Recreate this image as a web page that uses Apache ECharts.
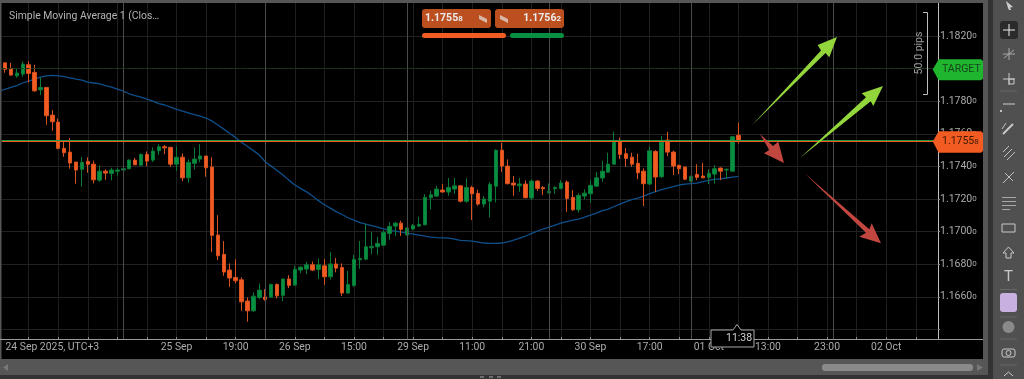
<!DOCTYPE html>
<html>
<head>
<meta charset="utf-8">
<title>EURUSD</title>
<style>
  html, body { margin: 0; padding: 0; background: #000; }
  #chart { width: 1024px; height: 379px; }
</style>
<script src="https://cdn.jsdelivr.net/npm/echarts@6/dist/echarts.min.js"></script>
</head>
<body>
<div id="chart"></div>
<script>
// candles
const opens = [
  1.18157,1.18036,1.17999,1.17956,1.17967,1.18024,1.17977,1.17870,1.17885,1.17715,
  1.17672,1.17511,1.17488,1.17427,1.17382,1.17431,1.17414,1.17316,1.17371,1.17357,
  1.17371,1.17378,1.17386,1.17439,1.17408,1.17474,1.17439,1.17496,1.17521,1.17517,
  1.17414,1.17457,1.17330,1.17419,1.17445,1.17464,1.17396,1.16979,1.16860,1.16764,
  1.16719,1.16704,1.16574,1.16514,1.16596,1.16598,1.16598,1.16676,1.16609,1.16709,
  1.16672,1.16764,1.16770,1.16796,1.16768,1.16790,1.16723,1.16801,1.16780,1.16623,
  1.16670,1.16827,1.16831,1.16901,1.16907,1.16917,1.16989,1.17034,1.17052,1.16979,
  1.17016,1.17034,1.17042,1.17208,1.17218,1.17255,1.17243,1.17261,1.17281,1.17186,
  1.17271,1.17235,1.17169,1.17187,1.17279,1.17499,1.17402,1.17298,1.17281,1.17292,
  1.17206,1.17310,1.17271,1.17238,1.17263,1.17265,1.17304,1.17210,1.17134,1.17218,
  1.17232,1.17279,1.17329,1.17365,1.17414,1.17551,1.17478,1.17457,1.17419,1.17371,
  1.17292,1.17492,1.17337,1.17562,1.17488,1.17407,1.17396,1.17310,1.17351,1.17341,
  1.17333,1.17353,1.17390,1.17378,1.17371,1.17591
];
const closes = [
  1.18034,1.17996,1.17961,1.17973,1.18028,1.17971,1.17864,1.17885,1.17711,1.17674,
  1.17511,1.17484,1.17421,1.17378,1.17425,1.17413,1.17318,1.17371,1.17359,1.17378,
  1.17378,1.17386,1.17439,1.17410,1.17474,1.17433,1.17494,1.17521,1.17514,1.17414,
  1.17456,1.17330,1.17425,1.17445,1.17464,1.17392,1.16977,1.16852,1.16752,1.16715,
  1.16698,1.16569,1.16514,1.16604,1.16641,1.16584,1.16676,1.16606,1.16709,1.16670,
  1.16768,1.16782,1.16796,1.16764,1.16796,1.16723,1.16801,1.16776,1.16623,1.16676,
  1.16830,1.16836,1.16907,1.16909,1.16928,1.16995,1.17032,1.17052,1.17014,1.17022,
  1.17038,1.17044,1.17210,1.17226,1.17261,1.17243,1.17271,1.17281,1.17187,1.17271,
  1.17232,1.17169,1.17200,1.17290,1.17499,1.17402,1.17294,1.17286,1.17292,1.17208,
  1.17310,1.17265,1.17263,1.17247,1.17271,1.17298,1.17204,1.17134,1.17222,1.17236,
  1.17284,1.17330,1.17371,1.17414,1.17551,1.17474,1.17449,1.17414,1.17361,1.17294,
  1.17496,1.17335,1.17551,1.17488,1.17402,1.17386,1.17322,1.17339,1.17333,1.17330,
  1.17357,1.17386,1.17371,1.17382,1.17582,1.17558
];
const lows = [
  1.18034,1.17975,1.17956,1.17944,1.17950,1.17916,1.17858,1.17838,1.17656,1.17619,
  1.17505,1.17459,1.17386,1.17294,1.17275,1.17361,1.17296,1.17306,1.17318,1.17314,
  1.17343,1.17371,1.17382,1.17410,1.17402,1.17402,1.17427,1.17470,1.17476,1.17398,
  1.17373,1.17310,1.17300,1.17382,1.17425,1.17337,1.16874,1.16825,1.16729,1.16661,
  1.16682,1.16514,1.16447,1.16508,1.16586,1.16576,1.16596,1.16590,1.16574,1.16653,
  1.16668,1.16744,1.16739,1.16758,1.16709,1.16674,1.16707,1.16750,1.16606,1.16618,
  1.16661,1.16772,1.16825,1.16862,1.16858,1.16911,1.16950,1.16973,1.16973,1.16977,
  1.17009,1.17030,1.17038,1.17136,1.17214,1.17241,1.17220,1.17232,1.17179,1.17177,
  1.17071,1.17159,1.17149,1.17087,1.17179,1.17365,1.17290,1.17220,1.17244,1.17204,
  1.17194,1.17249,1.17224,1.17235,1.17232,1.17259,1.17122,1.17128,1.17116,1.17198,
  1.17177,1.17275,1.17306,1.17361,1.17413,1.17445,1.17398,1.17398,1.17322,1.17157,
  1.17284,1.17244,1.17329,1.17464,1.17347,1.17353,1.17316,1.17302,1.17316,1.17329,
  1.17292,1.17294,1.17316,1.17327,1.17370,1.17541
];
const highs = [
  1.18157,1.18036,1.18036,1.18002,1.18045,1.18045,1.18024,1.17947,1.17885,1.17746,
  1.17695,1.17551,1.17574,1.17427,1.17459,1.17456,1.17435,1.17408,1.17382,1.17392,
  1.17392,1.17392,1.17443,1.17453,1.17480,1.17492,1.17517,1.17537,1.17531,1.17521,
  1.17523,1.17480,1.17443,1.17517,1.17537,1.17464,1.17456,1.17101,1.16942,1.16805,
  1.16830,1.16719,1.16596,1.16627,1.16682,1.16647,1.16680,1.16682,1.16713,1.16733,
  1.16790,1.16788,1.16815,1.16817,1.16836,1.16831,1.16874,1.16839,1.16805,1.16758,
  1.16858,1.16942,1.17046,1.16997,1.16968,1.17009,1.17057,1.17059,1.17067,1.17026,
  1.17046,1.17091,1.17230,1.17251,1.17279,1.17292,1.17329,1.17329,1.17286,1.17327,
  1.17281,1.17257,1.17218,1.17304,1.17505,1.17545,1.17443,1.17341,1.17329,1.17314,
  1.17321,1.17316,1.17279,1.17296,1.17279,1.17316,1.17314,1.17255,1.17235,1.17259,
  1.17316,1.17365,1.17435,1.17484,1.17613,1.17578,1.17513,1.17484,1.17478,1.17388,
  1.17521,1.17500,1.17588,1.17613,1.17496,1.17410,1.17398,1.17343,1.17414,1.17422,
  1.17382,1.17408,1.17394,1.17388,1.17586,1.17668
];
const sma = [
  1.17862,1.17873,1.17885,1.17896,1.17912,1.17924,1.17936,1.17948,1.17956,1.17959,
  1.17956,1.17951,1.17944,1.17936,1.17930,1.17918,1.17912,1.17907,1.17896,1.17887,
  1.17875,1.17862,1.17846,1.17835,1.17826,1.17813,1.17801,1.17786,1.17777,1.17764,
  1.17750,1.17740,1.17729,1.17718,1.17709,1.17697,1.17678,1.17654,1.17629,1.17602,
  1.17577,1.17549,1.17522,1.17497,1.17470,1.17429,1.17402,1.17375,1.17347,1.17316,
  1.17286,1.17264,1.17244,1.17218,1.17190,1.17165,1.17144,1.17123,1.17105,1.17085,
  1.17071,1.17055,1.17046,1.17037,1.17028,1.17017,1.17009,1.17003,1.16997,1.16991,
  1.16985,1.16979,1.16973,1.16966,1.16963,1.16962,1.16960,1.16954,1.16946,1.16945,
  1.16942,1.16936,1.16930,1.16928,1.16928,1.16930,1.16937,1.16948,1.16960,1.16973,
  1.16988,1.17003,1.17016,1.17028,1.17040,1.17052,1.17062,1.17071,1.17077,1.17089,
  1.17101,1.17114,1.17129,1.17138,1.17154,1.17169,1.17184,1.17197,1.17206,1.17218,
  1.17233,1.17246,1.17258,1.17267,1.17276,1.17286,1.17292,1.17295,1.17298,1.17307,
  1.17315,1.17321,1.17324,1.17329,1.17335,1.17339
];

const priceNow = 1.17558;
const targetPrice = 1.18;
const priceTicks = [1.164,1.166,1.168,1.17,1.172,1.174,1.176,1.178,1.18,1.182];
const priceLabels = [1.166,1.168,1.17,1.172,1.174,1.176,1.178,1.18,1.182];
const timeTicks = [5,10,15,20,25,30,35,40,45,50,55,60,65,70,75,80,85,90,95,100,105,110,115,120,125,130,135,140,145,150,155];
const timeLabelAt = [9,30,40,50,60,70,80,90,100,110,120,130,140,150];
const timeLabels = ['24 Sep 2025, UTC+3','25 Sep','19:00','26 Sep','15:00','29 Sep','11:00','21:00','30 Sep','17:00','01 Oct','13:00','23:00','02 Oct'];
const sessionBreaks = [21,45,69,93,117,141];

const ORANGE = '#f25c22', GREEN = '#07903f', LIME = '#93d63b', RED = '#c0463f';
const FONT = 'Roboto, sans-serif';

const candles = opens.map((o, i) => [i, o, closes[i], lows[i], highs[i]]);
const smaLine = sma.map((v, i) => [i, v]);

// gray frame, toolbar, drawing objects: page furniture around the plot
function rect(x, y, w, h, fill, r) {
  return { type: 'rect', silent: true, z: 50, shape: { x, y, width: w, height: h, r: r || 0 }, style: { fill } };
}
function line(x1, y1, x2, y2, stroke, w) {
  return { type: 'line', silent: true, z: 51, shape: { x1, y1, x2, y2 }, style: { stroke: stroke || '#c8c8c8', lineWidth: w || 1 } };
}
function poly(points, fill, z) {
  return { type: 'polygon', silent: true, z: z || 45, shape: { points }, style: { fill } };
}
function text(x, y, str, fill, size, align, extra) {
  return Object.assign({ type: 'text', silent: true, z: 60, x, y,
    style: { text: str, fill, font: size + 'px ' + FONT, textAlign: align || 'left', textVerticalAlign: 'middle' } }, extra || {});
}
function richPrice(x, y, big, small, fill, size, weight, align) {
  const w = weight ? weight + ' ' : '';
  return { type: 'text', silent: true, z: 60, x, y, style: {
    text: '{a|' + big + '}{s|' + small + '}', textAlign: align || 'left', textVerticalAlign: 'middle',
    rich: {
      a: { fill, font: w + size + 'px ' + FONT },
      s: { fill, font: w + (size - 2.5) + 'px ' + FONT }
    }
  } };
}

const chrome = [
  rect(0, 0, 1024, 3, '#565656'),
  rect(0, 3, 1.5, 356, '#565656'),
  rect(983, 0, 5, 376, '#565656'),
  rect(988, 0, 5, 379, '#333333'),
  rect(993, 0, 31, 379, '#505050'),
  rect(0, 359, 988, 16, '#565656'),
  rect(0, 375, 993, 4, '#333333'),
  rect(822, 364, 151, 7, '#8a8a8a', 3),
  poly([[977, 364], [983, 367.5], [977, 371]], '#777777', 52),
  poly([[8, 364], [3, 367.5], [8, 371]], '#777777', 52),
  line(0, 339.5, 983, 339.5, '#9a9a9a'),
  rect(480, 376.5, 4, 1, '#aaaaaa'), rect(489, 376.5, 4, 1, '#aaaaaa'), rect(497, 376.5, 4, 1, '#aaaaaa'),

  // legend and trade buttons
  text(9, 16, 'Simple Moving Average 1 (Clos\u2026', '#b4b4b4', 10.4),
  rect(422, 9, 69, 19, '#bb4f20', 3),
  rect(495, 9, 69, 19, '#bb4f20', 3),
  richPrice(425, 18.5, '1.1755', '8', '#ececec', 10.5, 'bold'),
  richPrice(561, 18.5, '1.1756', '2', '#ececec', 10.5, 'bold', 'right'),
  poly([[479, 15], [487, 19], [487, 23], [479, 19]], '#d9b8a8', 52),
  poly([[500, 15], [508, 19], [508, 23], [500, 19]], '#d9b8a8', 52),
  rect(422, 33, 84, 5, ORANGE, 2.5),
  rect(510, 33, 54, 5, GREEN, 2.5),

  // hand drawn arrows
  poly([[752, 125.3], [821, 50.5], [817.7, 45], [837, 37], [829.3, 57.3], [825.5, 53]], LIME),
  poly([[800, 158], [866, 97.3], [861.7, 93.3], [883, 86], [873.3, 106], [870.7, 101.3]], LIME),
  poly([[760, 134], [769.3, 150], [764, 153.3], [784, 163], [778.3, 141.7], [773, 146]], RED),
  poly([[804.3, 173], [866, 232.7], [859.3, 236.7], [881, 243.3], [871.7, 223.3], [869.3, 229.3]], RED),

  // 50 pips ruler
  line(923, 12.5, 927.5, 12.5, '#bdbdbd'),
  line(927.5, 12.5, 927.5, 94.5, '#bdbdbd'),
  line(923, 94.5, 927.5, 94.5, '#bdbdbd'),
  text(919, 53, '50.0 pips', '#9c9c9c', 10.5, 'center', { rotation: Math.PI / 2 }),

  // price tags
  { type: 'polygon', silent: true, z: 55, shape: { points: [[932.7, 69.5], [938.7, 59.3], [981, 59.3], [983, 61], [983, 78.5], [981, 80.3], [938.7, 80.3]] }, style: { fill: '#1fb52f' } },
  text(942, 69.5, 'TARGET', '#17451c', 10.5),
  { type: 'polygon', silent: true, z: 55, shape: { points: [[932.7, 141.5], [938.7, 131.3], [981, 131.3], [983, 133], [983, 151], [981, 152.7], [938.7, 152.7]] }, style: { fill: ORANGE } },
  richPrice(942, 141.5, '1.1755', '8', '#3a1800', 10.5),

  // time bubble
  { type: 'polygon', silent: true, z: 55, shape: { points: [[711, 330], [733, 330], [737, 324.5], [741, 330], [754, 330], [754, 347], [711, 347]] }, style: { fill: '#000', stroke: '#a8a8a8', lineWidth: 1 } },
  rect(716, 334, 1.5, 9, '#c8c8c8'), rect(719, 334, 1.5, 9, '#c8c8c8'),
  text(726, 338.5, '11:38', '#d0d0d0', 10.5),

  // toolbar
  poly([[1006, 1], [1013, 7], [1010, 7.5], [1011, 10], [1009, 10], [1008, 8]], '#cfcfcf', 52),
  rect(1000, 21, 18, 18, '#2b2b2b', 3),
  line(1003, 30, 1015, 30, '#eeeeee'), line(1009, 24, 1009, 36, '#eeeeee'),
  line(1003, 54, 1015, 54, '#a8a8a8'), line(1009, 48, 1009, 60, '#a8a8a8'), line(1004, 58, 1014, 50, '#a8a8a8'),
  line(1003, 79, 1015, 79, '#c8c8c8'), line(1009, 73, 1009, 85, '#c8c8c8'),
  { type: 'rect', silent: true, z: 51, shape: { x: 1009, y: 79, width: 5, height: 5 }, style: { fill: 'none', stroke: '#c8c8c8' } },
  line(1000, 91, 1017, 91, '#666666'),
  line(1003, 104, 1015, 104, '#d0d0d0'), rect(1000, 110, 2, 2, '#c0c0c0'),
  line(1003, 134, 1013, 124, '#c8c8c8', 2), line(1002, 129, 1006, 123, '#c0c0c0'),
  line(1003, 152, 1009, 146, '#c0c0c0'), line(1004, 157, 1012, 149, '#c0c0c0'), line(1007, 160, 1015, 152, '#c0c0c0'),
  line(1003, 183, 1014, 172, '#c0c0c0'), line(1005, 173, 1013, 181, '#c0c0c0'),
  rect(1002, 197, 14, 1, '#a8a8a8'), rect(1002, 201, 14, 1, '#a8a8a8'), rect(1002, 205, 14, 1, '#a8a8a8'), rect(1002, 209, 8, 1, '#a8a8a8'),
  { type: 'rect', silent: true, z: 51, shape: { x: 1002, y: 224, width: 13, height: 8 }, style: { fill: 'none', stroke: '#c8c8c8' } },
  { type: 'polygon', silent: true, z: 51, shape: { points: [[1008.5, 247], [1014, 253], [1011, 253], [1011, 258], [1006, 258], [1006, 253], [1003, 253]] }, style: { fill: 'none', stroke: '#c8c8c8' } },
  text(1008.5, 277, 'T', '#c8c8c8', 15, 'center'),
  line(1000, 289.5, 1017, 289.5, '#666666'),
  rect(1000, 293, 17, 19, '#c8b0e0', 3),
  line(1000, 317, 1017, 317, '#666666'),
  { type: 'circle', silent: true, z: 51, shape: { cx: 1008.5, cy: 327, r: 6 }, style: { fill: '#8a8a8a' } },
  line(1000, 339, 1017, 339, '#666666'),
  { type: 'rect', silent: true, z: 51, shape: { x: 1002, y: 349, width: 13, height: 8, r: 2 }, style: { fill: 'none', stroke: '#c8c8c8' } },
  { type: 'circle', silent: true, z: 52, shape: { cx: 1008.5, cy: 353, r: 2.5 }, style: { fill: 'none', stroke: '#c8c8c8' } },
  line(1000, 365, 1017, 365, '#666666'),
  { type: 'polyline', silent: true, z: 51, shape: { points: [[1004, 376], [1008.5, 372], [1013, 376]] }, style: { fill: 'none', stroke: '#c8c8c8' } }
];

const chart = echarts.init(document.getElementById('chart'));
chart.setOption({
  animation: false,
  backgroundColor: '#000000',
  grid: { left: 1.5, top: 3, right: 86, height: 336 },
  xAxis: {
    type: 'value',
    min: 0.406,
    max: 158.76,
    containShape: false,
    axisLine: { show: false },
    axisTick: { show: true, inside: true, length: 2, lineStyle: { color: '#8c8c8c' }, customValues: timeTicks },
    splitLine: { show: true, lineStyle: { color: '#1e1e1e', width: 1 } },
    axisLabel: {
      show: true,
      customValues: timeLabelAt,
      color: '#ababab',
      fontFamily: FONT,
      fontSize: 10.4,
      margin: 3,
      formatter: v => timeLabels[timeLabelAt.indexOf(v)] || ''
    }
  },
  yAxis: {
    type: 'value',
    position: 'right',
    min: 1.16341,
    max: 1.18403,
    axisLine: { show: true, onZero: false, lineStyle: { color: '#c0c0c0' } },
    axisTick: { show: true, length: 2, lineStyle: { color: '#8c8c8c' }, customValues: priceTicks },
    splitLine: { show: true, lineStyle: { color: '#222222', width: 1 } },
    axisLabel: {
      show: true,
      customValues: priceLabels,
      margin: 2,
      fontFamily: FONT,
      formatter: v => {
        const s = v.toFixed(5);
        return '{a|' + s.slice(0, 6) + '}{b|' + s.slice(6) + '}';
      },
      rich: {
        a: { color: '#ababab', fontSize: 10.5, fontFamily: FONT },
        b: { color: '#ababab', fontSize: 8, fontFamily: FONT }
      }
    }
  },
  series: [
    {
      name: 'SMA',
      type: 'line',
      data: smaLine,
      showSymbol: false,
      z: 3,
      lineStyle: { color: '#0e4f8a', width: 1.3 },
      markLine: {
        silent: true,
        symbol: 'none',
        animation: false,
        precision: 5,
        label: { show: false },
        data: sessionBreaks.map(x => ({ xAxis: x, lineStyle: { color: '#4b4b4b', width: 1, type: 'solid' } }))
          .concat([
            { yAxis: targetPrice, lineStyle: { color: '#143a18', width: 1, type: 'dashed' } },
            { yAxis: priceNow - 0.00004, lineStyle: { color: ORANGE, width: 1, type: 'solid' } },
            { yAxis: priceNow + 0.00002, lineStyle: { color: '#1f9a3e', width: 1, type: 'solid' } }
          ])
      }
    },
    {
      name: 'EURUSD',
      type: 'candlestick',
      data: candles,
      barWidth: 4,
      z: 4,
      itemStyle: { color: GREEN, color0: ORANGE, borderColor: '#0a7a38', borderColor0: '#d8521f', borderWidth: 1 }
    }
  ],
  graphic: { elements: chrome }
});
</script>
</body>
</html>
